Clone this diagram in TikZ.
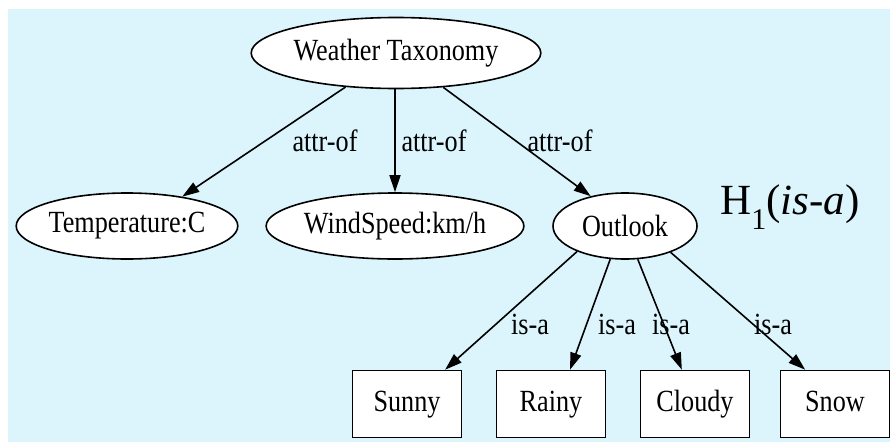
\documentclass[tikz,border=0pt]{standalone}
\usepackage{fontspec}
\usepackage{graphicx}
\setmainfont{Liberation Serif}
\usetikzlibrary{shapes.geometric,arrows.meta}
\definecolor{skyback}{RGB}{220,245,253}
\newcommand\tallt[1]{\scalebox{0.97}[1.14]{#1}}
\tikzset{
  x=1pt, y=-1pt,
  every node/.style={font=\fontsize{27}{30}\selectfont},
  ell/.style={ellipse, draw, line width=1.6pt, fill=white, inner sep=0pt},
  leaf/.style={rectangle, draw, line width=1.6pt, fill=white, inner sep=0pt,
               text height=21pt, text depth=7pt,
               minimum width=109pt, minimum height=67pt},
  lbl/.style={inner sep=1pt},
  arr/.style={line width=1.6pt, -{Triangle[length=17pt,width=11pt]}},
}
\begin{document}
\begin{tikzpicture}
\useasboundingbox (0,0) rectangle (890,442);
\fill[white] (0,0) rectangle (890,442);
\fill[skyback] (8,9) rectangle (890,442);

% upper level
\node[ell, minimum width=268pt, minimum height=71pt] (wt) at (396,53) {\tallt{Weather Taxonomy}};
\node[ell, minimum width=220pt, minimum height=66pt] (temp) at (127,226) {\tallt{Temperature:C}};
\node[ell, minimum width=245pt, minimum height=66pt] (wind) at (395,226) {\tallt{WindSpeed:km/h}};
\node[ell, minimum width=144pt, minimum height=66pt] (out) at (625,226) {\tallt{Outlook}};

% leaves
\node[leaf] (sunny) at (407,404) {\tallt{Sunny}};
\node[leaf] (rainy) at (551,404) {\tallt{Rainy}};
\node[leaf] (cloudy) at (695,404) {\tallt{Cloudy}};
\node[leaf] (snow) at (835,404) {\tallt{Snow}};

% connectors
\draw[arr] (wt.214) -- (temp.28);
\draw[arr] (wt.south -| wind.north) -- (wind);
\draw[arr] (wt.324) -- (out.139);
\draw[arr] (out.208) -- (sunny.42);
\draw[arr] (out.246) -- (rainy.61);
\draw[arr] (out.291) -- (cloudy.111);
\draw[arr] (out.330) -- (snow.131);

% edge labels
\node[lbl] (l1) at (325,141) {\tallt{attr-of}};
\node[lbl] (l2) at (434,141) {\tallt{attr-of}};
\node[lbl] (l3) at (560,141) {\tallt{attr-of}};
\node[lbl] (l4) at (530,324) {\tallt{is-a}};
\node[lbl] (l5) at (617,324) {\tallt{is-a}};
\node[lbl] (l6) at (671,324) {\tallt{is-a}};
\node[lbl] (l7) at (773,324) {\tallt{is-a}};

% hierarchy caption
\node[inner sep=0pt, font=\fontsize{43}{46}\selectfont] (cap) at (790,207)
  {H\raisebox{-0.33em}{\fontsize{30}{32}\selectfont 1}(\textit{is-a})};
\end{tikzpicture}
\end{document}
